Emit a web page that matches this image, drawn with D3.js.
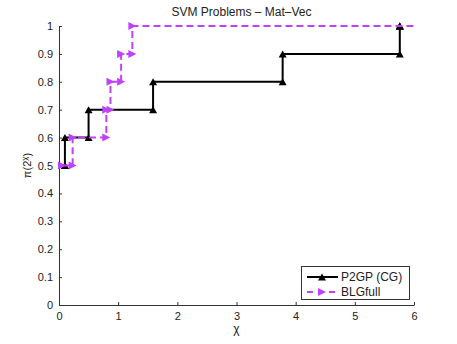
<!DOCTYPE html>
<html>
<head>
<meta charset="utf-8">
<script src="https://cdn.jsdelivr.net/npm/d3@7"></script>
<style>
  body { margin: 0; background: #fff; }
  text { font-family: "Liberation Sans", Arial, sans-serif; fill: #222; }
</style>
</head>
<body>
<svg id="chart"></svg>
<script>
// stairs data (MATLAB style): x where each level starts, level value
const p2gpX = [0.10, 0.10, 0.50, 1.59, 3.78, 5.76, 5.76];
const p2gpY = [0.5, 0.6, 0.7, 0.8, 0.9, 1.0, 1.0];
const blgX = [0.05, 0.23, 0.80, 0.87, 1.05, 1.24, 6.5];
const blgY = [0.5, 0.6, 0.7, 0.8, 0.9, 1.0, 1.0];
const seriesNames = ["P2GP (CG)", "BLGfull"];
const xTicks = [0, 1, 2, 3, 4, 5, 6];
const yTicks = [0, 0.1, 0.2, 0.3, 0.4, 0.5, 0.6, 0.7, 0.8, 0.9, 1];

var width = 457,
    height = 344,
    margin = {left: 59, right: 43, top: 26, bottom: 39},
    magenta = "#bf40ff",
    axisColor = "#333";

const stairsPoints = function (xs, ys) {
    var pts = [];
    for (var i = 0; i < xs.length; i++) {
        pts.push([xs[i], ys[i]]);
        if (i < xs.length - 1) pts.push([xs[i + 1], ys[i]]);
    }
    return pts;
};

var svg = d3.select("#chart")
    .attr("width", width)
    .attr("height", height);

var x = d3.scaleLinear().domain([0, 6]).range([margin.left, width - margin.right]),
    y = d3.scaleLinear().domain([0, 1]).range([height - margin.bottom, margin.top]);

svg.append("clipPath").attr("id", "clip")
    .append("rect")
    .attr("x", x(0) - 6).attr("y", y(1) - 6)
    .attr("width", x(6) - x(0) + 6.5).attr("height", y(0) - y(1) + 12);

// axes (box off, ticks inside)
var xAxis = svg.append("g")
    .attr("transform", "translate(0," + y(0) + ")")
    .call(d3.axisBottom(x).tickValues(xTicks).tickSizeInner(-3).tickSizeOuter(0).tickPadding(7)
        .tickFormat(d3.format("~g")));
var yAxis = svg.append("g")
    .attr("transform", "translate(" + x(0) + ",0)")
    .call(d3.axisLeft(y).tickValues(yTicks).tickSizeInner(-3).tickSizeOuter(0).tickPadding(6)
        .tickFormat(d3.format("~g")));

[xAxis, yAxis].forEach(function (a) {
    a.select(".domain").attr("stroke", axisColor);
    a.selectAll(".tick line").attr("stroke", axisColor);
    a.selectAll(".tick text").attr("font-size", "11px").attr("fill", "#222")
        .attr("font-family", "Liberation Sans, Arial, sans-serif");
});

// title and labels
svg.append("text")
    .attr("x", (x(0) + x(6)) / 2 + 5).attr("y", 16)
    .attr("text-anchor", "middle").attr("font-size", "12px")
    .text("SVM Problems \u2013 Mat\u2013Vec");

svg.append("text")
    .attr("x", (x(0) + x(6)) / 2).attr("y", 333)
    .attr("text-anchor", "middle").attr("font-size", "12px")
    .text("\u03c7");

var yl = svg.append("text")
    .attr("transform", "translate(31," + ((y(0) + y(1)) / 2) + ") rotate(-90)")
    .attr("text-anchor", "middle").attr("font-size", "11px");
yl.append("tspan").text("\u03c0(2");
yl.append("tspan").attr("font-size", "8px").attr("dy", -4).text("\u03c7");
yl.append("tspan").attr("dy", 4).text(")");

// markers
const upTri = "M0,-3.5L4,3.5L-4,3.5Z";
const rightTri = "M4,0L-4,-4L-4,4Z";

var line = d3.line().x(d => x(d[0])).y(d => y(d[1]));

var series = [
    {pts: stairsPoints(p2gpX, p2gpY), color: "#000", dash: null, marker: upTri},
    {pts: stairsPoints(blgX, blgY), color: magenta, dash: "7,4", marker: rightTri}
];

var plot = svg.append("g").attr("clip-path", "url(#clip)");

series.forEach(function (s) {
    plot.append("path")
        .attr("d", line(s.pts))
        .attr("fill", "none")
        .attr("stroke", s.color)
        .attr("stroke-width", 2)
        .attr("stroke-dasharray", s.dash);
    plot.selectAll(null)
        .data(s.pts.filter(p => p[0] <= 6))
        .enter().append("path")
        .attr("d", s.marker)
        .attr("transform", p => "translate(" + x(p[0]) + "," + y(p[1]) + ")")
        .attr("fill", s.color);
});

// legend
var lg = svg.append("g");
lg.append("rect")
    .attr("x", 301.5).attr("y", 266.5).attr("width", 108).attr("height", 33)
    .attr("fill", "#fff").attr("stroke", axisColor).attr("stroke-width", 1);

series.forEach(function (s, i) {
    var ly = 277 + i * 15;
    lg.append("line")
        .attr("x1", 307).attr("x2", 338).attr("y1", ly).attr("y2", ly)
        .attr("stroke", s.color).attr("stroke-width", 2)
        .attr("stroke-dasharray", s.dash ? "6,5" : null);
    lg.append("path")
        .attr("d", s.marker)
        .attr("transform", "translate(322," + ly + ")")
        .attr("fill", s.color);
    lg.append("text")
        .attr("x", 341).attr("y", ly + 4)
        .attr("font-size", "12px")
        .text(seriesNames[i]);
});
</script>
</body>
</html>
